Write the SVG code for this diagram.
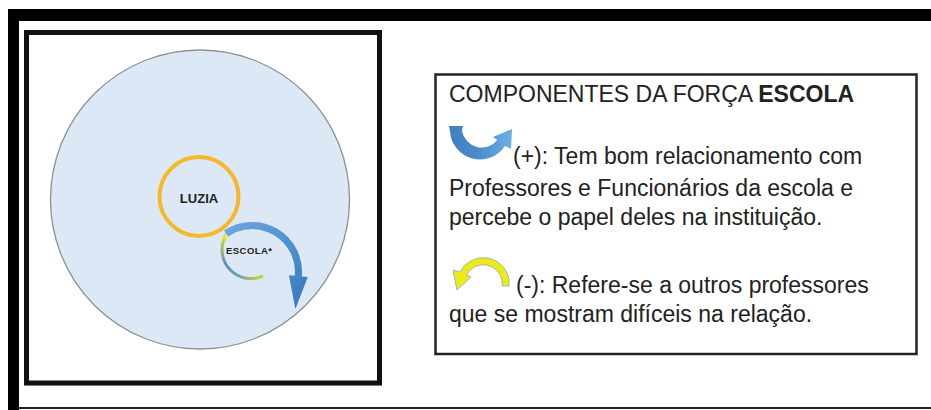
<svg xmlns="http://www.w3.org/2000/svg" width="931" height="410" viewBox="0 0 931 410">
<style>
.t{font-family:"Liberation Sans",Arial,sans-serif;font-size:23px;fill:#222}
.b{font-weight:bold}
.lbl{font-family:"Liberation Sans",Arial,sans-serif;font-weight:bold;fill:#222}
</style>
<defs>
<linearGradient id="gBlue" x1="0" y1="0" x2="1" y2="1">
<stop offset="0" stop-color="#6ea9df"/>
<stop offset="1" stop-color="#3478bd"/>
</linearGradient>
<linearGradient id="gU" x1="0" y1="0" x2="1" y2="0">
<stop offset="0" stop-color="#3f7fc0"/>
<stop offset="0.5" stop-color="#4d8dcc"/>
<stop offset="1" stop-color="#6eb0e8"/>
</linearGradient>
<linearGradient id="gEsc" gradientUnits="userSpaceOnUse" x1="222" y1="235" x2="262" y2="278">
<stop offset="0" stop-color="#d8e21a"/>
<stop offset="0.4" stop-color="#5b8fc0"/>
<stop offset="0.7" stop-color="#6aa0b0"/>
<stop offset="1" stop-color="#c8d820"/>
</linearGradient>
</defs>
<rect width="931" height="410" fill="#fff"/>
<g id="frame">
<rect x="8" y="9" width="923" height="12" fill="#000"/>
<rect x="8" y="9" width="11" height="401" fill="#000"/>
<rect x="19" y="407" width="912" height="2" fill="#222"/>
<rect x="28" y="34" width="353" height="350.5" fill="none" stroke="#c4c4c4" stroke-width="2"/>
<rect x="26.5" y="32.5" width="353" height="350.5" fill="#fff" stroke="#111" stroke-width="5"/>
</g>
<g id="node-campo">
<circle cx="200" cy="199.5" r="149.5" fill="#dce8f5" stroke="#8c9198" stroke-width="1.3"/>
</g>
<g id="connectors">
<path d="M224 230.5 A50 50 0 0 1 301.8 276.4 L307.8 276.9 L295.4 309 L288.9 275.2 L294.8 275.7 A43 43 0 0 0 228 236.4 Z" fill="url(#gBlue)"/>
<path d="M224.2 238.5 A29 29 0 0 0 261.8 276.5" fill="none" stroke="url(#gEsc)" stroke-width="3" stroke-linecap="round"/>
<path d="M221.8 240 L224.8 232 L226.8 240.5 Z" fill="#e0e61a"/>
</g>
<g id="node-luzia">
<circle cx="199" cy="196.5" r="39.5" fill="none" stroke="#f6b826" stroke-width="4"/>
<text class="lbl" x="199" y="203" font-size="13" text-anchor="middle">LUZIA</text>
</g>
<g id="node-escola">
<text class="lbl" x="226" y="254" font-size="9.5" textLength="46">ESCOLA*</text>
</g>
<g id="legend">
<rect x="435.5" y="74.5" width="481" height="279.5" fill="#fff" stroke="#222" stroke-width="2.5"/>
<text class="t" x="449" y="102">COMPONENTES DA FORÇA <tspan class="b">ESCOLA</tspan></text>
<path d="M449 126 L450 131 A30 30 0 0 0 505 146 L511 149 L512 129 L493 137 L497.3 140 A20 20 0 0 1 462 131 L463 126 Z" fill="url(#gU)"/>
<text class="t" x="513" y="164">(+): Tem bom relacionamento com</text>
<text class="t" x="449" y="196">Professores e Funcionários da escola e</text>
<text class="t" x="449" y="225">percebe o papel deles na instituição.</text>
<path d="M460 272 A26 26 0 0 1 509 280 L509 286 L502 286 L502 280 A19 19 0 0 0 466.5 275 L471 277 L457 290 L453 270 Z" fill="#ecec12" stroke="#9fb4c8" stroke-width="1"/>
<text class="t" x="516" y="293">(-): Refere-se a outros professores</text>
<text class="t" x="449" y="322">que se mostram difíceis na relação.</text>
</g>
</svg>
